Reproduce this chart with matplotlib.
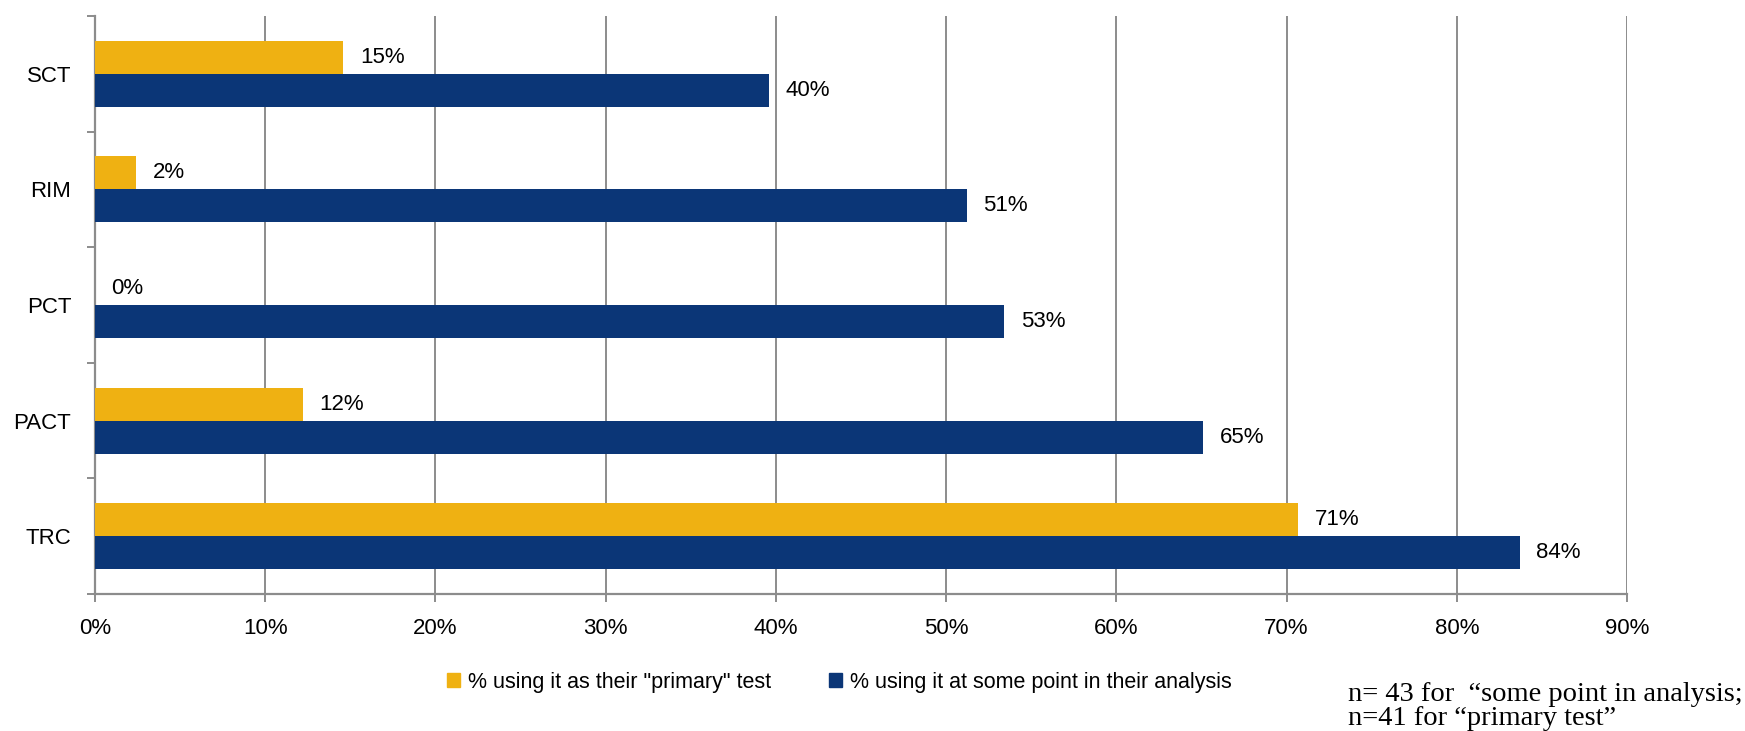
import numpy as np
import matplotlib
matplotlib.use("Agg")
import matplotlib.pyplot as plt
from matplotlib.patches import Patch
from matplotlib import font_manager

# survey results, % of respondents
tests = ["TRC", "PACT", "PCT", "RIM", "SCT"]
primary_pct = [70.7, 12.2, 0.0, 2.4, 14.6]     # n=41
some_point_pct = [83.7, 65.1, 53.4, 51.2, 39.6]  # n=43
xticks = [0, 10, 20, 30, 40, 50, 60, 70, 80, 90]

YELLOW = "#EFB112"
BLUE = "#0B3677"
GRID = "#8C8C8C"

names = {f.name for f in font_manager.fontManager.ttflist}
if "Liberation Sans Narrow" in names:
    sans = ["Liberation Sans Narrow", "Liberation Sans"]
    fs = 18
else:
    sans = ["Liberation Sans", "DejaVu Sans"]
    fs = 16
plt.rcParams["font.family"] = sans

fig = plt.figure(figsize=(17.45, 7.31), dpi=100)
ax = fig.add_axes([0.0544, 0.1874, 0.878, 0.7907])

y = np.arange(len(tests))
h = 0.285
ax.barh(y + h / 2, primary_pct, height=h, color=YELLOW, zorder=3)
ax.barh(y - h / 2, some_point_pct, height=h, color=BLUE, zorder=3)

for yy, v in zip(y + h / 2, primary_pct):
    ax.annotate(f"{v:.0f}%", (v, yy), xytext=(12, 0), textcoords="offset points",
                va="center", ha="left", fontsize=fs, color="black")
for yy, v in zip(y - h / 2, some_point_pct):
    ax.annotate(f"{v:.0f}%", (v, yy), xytext=(12, 0), textcoords="offset points",
                va="center", ha="left", fontsize=fs, color="black")

ax.set_xlim(0, 90)
ax.set_ylim(-0.5, len(tests) - 0.5)
ax.set_xticks(xticks)
ax.set_xticklabels([f"{t}%" for t in xticks], fontsize=fs)
ax.set_yticks(y)
ax.set_yticklabels(tests, fontsize=fs)
ax.set_yticks(np.arange(-0.5, len(tests)), minor=True)

ax.tick_params(axis="y", which="major", length=0, pad=17)
ax.tick_params(axis="y", which="minor", length=6, width=1.4, color=GRID, direction="out")
ax.tick_params(axis="x", length=6, width=1.4, color=GRID, direction="out", pad=11)

ax.grid(axis="x", color=GRID, linewidth=1.4, zorder=0)
ax.set_axisbelow(True)
for side in ["top", "right"]:
    ax.spines[side].set_visible(False)
for side in ["left", "bottom"]:
    ax.spines[side].set_color(GRID)
    ax.spines[side].set_linewidth(1.6)

handles = [Patch(color=YELLOW, label='% using it as their "primary" test'),
           Patch(color=BLUE, label="% using it at some point in their analysis")]
fig.legend(handles=handles, loc="center", bbox_to_anchor=(0.481, 0.067), ncol=2,
           frameon=False, fontsize=fs - 0.5, handlelength=0.6, handleheight=0.6,
           handletextpad=0.35, columnspacing=2.7)

fig.text(0.7725, 0.008, "n= 43 for  \u201csome point in analysis;\nn=41 for \u201cprimary test\u201d",
         family=["Liberation Serif", "DejaVu Serif"], fontsize=20.5, ha="left",
         va="baseline", linespacing=0.95)

fig.savefig("out.png", dpi=100)
